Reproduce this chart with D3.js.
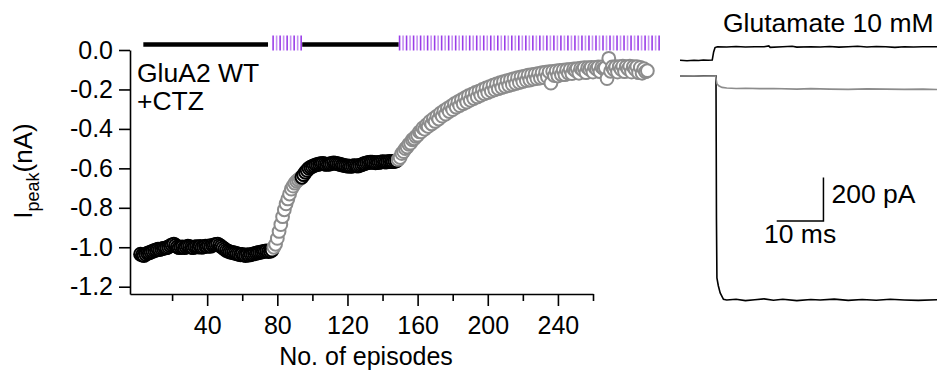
<!DOCTYPE html>
<html>
<head>
<meta charset="utf-8">
<script src="https://cdn.jsdelivr.net/npm/d3@7"></script>
<style>
  body { margin: 0; background: #fff; }
  svg { display: block; font-family: "Liberation Sans", Arial, Helvetica, sans-serif; }
</style>
</head>
<body>
<div id="chart-container"></div>
<script>
// peak current per episode (nA), one point per episode
const ctrl1Start = 2;
const ctrl1 = [-1.035, -1.04, -1.042, -1.036, -1.03, -1.028, -1.024, -1.02, -1.016, -1.014,
  -1.01, -1.012, -1.008, -1.006, -1.004, -1.002, -0.998, -0.992, -0.988, -0.984,
  -0.99, -0.998, -1.002, -1.0, -0.998, -1.002, -0.999, -0.995, -0.997, -1.0,
  -1.002, -0.998, -0.997, -0.999, -0.996, -1.0, -0.998, -0.994, -0.996, -0.993,
  -0.995, -0.99, -0.988, -0.986, -0.984, -0.99, -0.996, -1.003, -1.01, -1.016,
  -1.02, -1.024, -1.026, -1.028, -1.03, -1.033, -1.035, -1.038, -1.036, -1.04,
  -1.042, -1.038, -1.04, -1.037, -1.035, -1.032, -1.03, -1.028, -1.026, -1.024,
  -1.022, -1.02, -1.018, -1.022, -1.02, -1.015];
const glu1Start = 78;
const glu1 = [-1.0, -0.985, -0.955, -0.92, -0.885, -0.845, -0.81, -0.78, -0.755, -0.73,
  -0.705, -0.69, -0.675, -0.665, -0.658, -0.65];
const ctrl2Start = 94;
const ctrl2 = [-0.645, -0.632, -0.62, -0.61, -0.6, -0.594, -0.59, -0.586, -0.582, -0.58,
  -0.578, -0.576, -0.575, -0.578, -0.58, -0.579, -0.578, -0.575, -0.572, -0.574,
  -0.576, -0.578, -0.58, -0.583, -0.585, -0.587, -0.588, -0.589, -0.59, -0.588,
  -0.586, -0.587, -0.588, -0.585, -0.582, -0.578, -0.575, -0.572, -0.57, -0.569,
  -0.568, -0.57, -0.572, -0.571, -0.57, -0.568, -0.566, -0.567, -0.568, -0.566,
  -0.565, -0.566, -0.566, -0.564, -0.562];
const glu2Start = 149;
const glu2 = [-0.555, -0.545, -0.525, -0.515, -0.5, -0.492, -0.478, -0.472, -0.455, -0.45,
  -0.438, -0.432, -0.415, -0.415, -0.395, -0.402, -0.38, -0.388, -0.362, -0.375,
  -0.348, -0.362, -0.335, -0.35, -0.32, -0.335, -0.308, -0.325, -0.296, -0.312,
  -0.285, -0.302, -0.272, -0.29, -0.262, -0.282, -0.252, -0.272, -0.242, -0.264,
  -0.232, -0.255, -0.224, -0.246, -0.215, -0.238, -0.208, -0.23, -0.2, -0.222,
  -0.192, -0.216, -0.186, -0.208, -0.178, -0.202, -0.172, -0.196, -0.166, -0.19,
  -0.16, -0.185, -0.155, -0.18, -0.15, -0.175, -0.145, -0.17, -0.14, -0.165,
  -0.136, -0.16, -0.132, -0.155, -0.128, -0.152, -0.125, -0.148, -0.122, -0.145,
  -0.118, -0.142, -0.115, -0.14, -0.112, -0.136, -0.11, -0.168, -0.108, -0.13,
  -0.106, -0.132, -0.104, -0.125, -0.102, -0.125, -0.1, -0.118, -0.098, -0.12,
  -0.096, -0.104, -0.094, -0.118, -0.092, -0.1, -0.09, -0.115, -0.09, -0.098,
  -0.088, -0.112, -0.088, -0.096, -0.086, -0.11, -0.086, -0.094, -0.09, -0.145,
  -0.042, -0.108, -0.086, -0.1, -0.085, -0.112, -0.084, -0.098, -0.082, -0.11,
  -0.084, -0.096, -0.082, -0.112, -0.085, -0.098, -0.084, -0.115, -0.088, -0.118,
  -0.095, -0.11, -0.105];

// application bar above the plot (episodes)
const barStarts = [3.6, 77.6, 94.2, 149.7];
const barEnds = [74.7, 94.2, 149.2, 299];
const barKinds = ["ctrl", "glu", "ctrl", "glu"];

const xTicks = [20, 40, 60, 80, 100, 120, 140, 160, 180, 200, 220, 240, 260];
const yTicks = [0, -0.2, -0.4, -0.6, -0.8, -1.0, -1.2];

// example current traces: [time ms, current pA]
const traceTop = [[0, 72], [1.5, 70], [3, 72], [4, 71], [5, 73], [6, 72], [6.9, 73], [7.2, 110], [7.5, 130],
  [8, 134], [10, 133], [12, 135], [14, 133], [16, 134], [18, 134], [19, 138], [19.3, 131], [22, 134],
  [24, 136], [25, 132], [28, 134], [30, 133], [32, 135], [34, 132], [36, 134], [38, 136], [40, 133],
  [42, 135], [44, 134], [46, 131], [48, 134], [50, 133], [52, 134], [55, 134]];
const traceGray = [[0, 0], [3, 1], [5, -1], [7.6, 0], [7.9, -35], [8.3, -45], [9, -52], [10, -55],
  [12, -57], [14, -56], [17, -58], [20, -57], [25, -60], [28, -58], [32, -60], [36, -61], [40, -59],
  [44, -60], [48, -61], [52, -60], [55, -62]];
const traceBlack = [[0, 0], [7.7, 0], [7.75, -300], [7.8, -650], [7.9, -924], [8.2, -960], [8.6, -993],
  [9.3, -1022], [10, -1025], [12, -1022], [14, -1028], [16, -1024], [18, -1020], [20, -1026], [22, -1022],
  [25, -1028], [28, -1023], [30, -1025], [33, -1021], [36, -1027], [39, -1023], [42, -1026], [45, -1022],
  [48, -1025], [51, -1027], [55, -1024]];
const barTime = 10, barCurrent = 200;
const barCorner = [30.7, -664];

const width = 937;
const height = 374;

const svg = d3.select("#chart-container")
  .append("svg")
  .attr("width", width)
  .attr("height", height);

const xScale = d3.scaleLinear().domain([-4, 260]).range([130, 593]);
const yScale = d3.scaleLinear().domain([-1.237, 0]).range([294, 50]);

function pts(start, vals) {
  return vals.map((v, i) => ({ ep: start + i, v: v }));
}
const phases = [
  { data: pts(ctrl1Start, ctrl1), color: "#000" },
  { data: pts(glu1Start, glu1), color: "#8c8c8c" },
  { data: pts(ctrl2Start, ctrl2), color: "#000" },
  { data: pts(glu2Start, glu2), color: "#8c8c8c" }
];

// axes
const xAxis = svg.append("g")
  .attr("transform", `translate(0,${yScale(-1.237)})`)
  .call(d3.axisBottom(xScale).tickValues(xTicks).tickSize(12).tickSizeOuter(0).tickFormat(d => d % 40 === 0 ? d : ""));
xAxis.selectAll(".tick line").attr("y2", d => d % 40 === 0 ? 12 : 7);
xAxis.selectAll(".tick text").attr("y", 40).attr("dy", 0);

const yAxis = svg.append("g")
  .attr("transform", `translate(${xScale(-4)},0)`)
  .call(d3.axisLeft(yScale).tickValues(yTicks).tickSize(11).tickPadding(6).tickSizeOuter(0)
    .tickFormat(d => d3.format(".1f")(d).replace("\u2212", "-")));

svg.selectAll(".domain, .tick line").attr("stroke", "#000").attr("stroke-width", 1.6);
svg.selectAll(".tick text").attr("font-size", 25).attr("fill", "#000").attr("font-family", null);

// application bar
barKinds.forEach((k, i) => {
  if (k === "ctrl") {
    svg.append("line")
      .attr("x1", xScale(barStarts[i])).attr("x2", xScale(barEnds[i]))
      .attr("y1", 44.5).attr("y2", 44.5)
      .attr("stroke", "#000").attr("stroke-width", 4.5);
  } else {
    svg.append("g").selectAll("line")
      .data(d3.range(barStarts[i], barEnds[i], 2))
      .enter().append("line")
      .attr("x1", d => xScale(d)).attr("x2", d => xScale(d))
      .attr("y1", 35.5).attr("y2", 50.5)
      .attr("stroke", (d, j) => j % 2 === 0 ? "#9a3de8" : "#c590f2")
      .attr("stroke-width", 1.6);
  }
});

// points
phases.forEach(p => {
  svg.append("g").selectAll("circle")
    .data(p.data)
    .enter().append("circle")
    .attr("cx", d => xScale(d.ep))
    .attr("cy", d => yScale(d.v))
    .attr("r", 6.4)
    .attr("fill", "#fff")
    .attr("stroke", p.color)
    .attr("stroke-width", 2);
});

svg.append("text").attr("x", 137).attr("y", 82).attr("font-size", 26.5).text("GluA2 WT");
svg.append("text").attr("x", 137).attr("y", 110).attr("font-size", 26.5).text("+CTZ");

svg.append("text")
  .attr("x", 366).attr("y", 365)
  .attr("text-anchor", "middle").attr("font-size", 25)
  .text("No. of episodes");

const yTitle = svg.append("text")
  .attr("transform", "translate(32,171) rotate(-90)")
  .attr("text-anchor", "middle").attr("font-size", 26);
yTitle.append("tspan").text("I");
yTitle.append("tspan").attr("font-size", 18).attr("dy", 7).text("peak");
yTitle.append("tspan").attr("dy", -7).text("(nA)");

// traces panel
const tScale = d3.scaleLinear().domain([0, 55]).range([680, 937]);
const iScale = d3.scaleLinear().domain([0, 200]).range([76, 76 - 43.7]);
const line = d3.line().x(d => tScale(d[0])).y(d => iScale(d[1]));

svg.append("path").attr("d", line(traceTop)).attr("fill", "none").attr("stroke", "#000").attr("stroke-width", 1.6);
svg.append("path").attr("d", line(traceBlack)).attr("fill", "none").attr("stroke", "#000").attr("stroke-width", 1.6);
svg.append("path").attr("d", line(traceGray)).attr("fill", "none").attr("stroke", "#8c8c8c").attr("stroke-width", 1.6);

svg.append("path")
  .attr("d", `M${tScale(barCorner[0] - barTime)},${iScale(barCorner[1])}H${tScale(barCorner[0])}V${iScale(barCorner[1] + barCurrent)}`)
  .attr("fill", "none").attr("stroke", "#000").attr("stroke-width", 1.5);

svg.append("text").attr("x", tScale(barCorner[0]) + 8).attr("y", 203).attr("font-size", 26.5).text("200 pA");
svg.append("text").attr("x", tScale(barCorner[0] - barTime / 2)).attr("y", 243)
  .attr("text-anchor", "middle").attr("font-size", 26.5).text("10 ms");

svg.append("text").attr("x", 723).attr("y", 32).attr("font-size", 26.5).text("Glutamate 10 mM");
</script>
</body>
</html>
